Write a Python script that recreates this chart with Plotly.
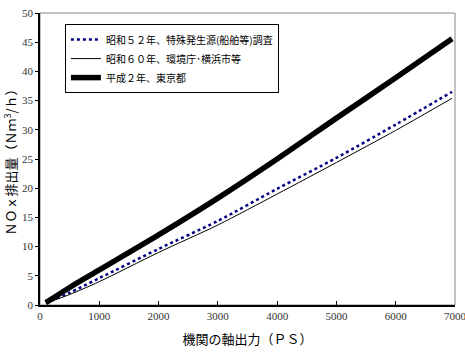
import plotly.graph_objects as go

# Data
power_ps = [100, 500, 1000, 2000, 3000, 4000, 5000, 6000, 6950]
nox_s52 = [0.3, 2.1, 4.6, 9.6, 14.4, 19.9, 25.2, 30.9, 36.5]
nox_s60 = [0.3, 1.8, 4.0, 9.0, 13.7, 19.0, 24.4, 29.9, 35.4]
nox_h2 = [0.4, 3.0, 6.0, 12.0, 18.3, 25.0, 32.0, 38.9, 45.6]

series_names = ["昭和５２年、特殊発生源(船舶等)調査", "昭和６０年、環境庁･横浜市等", "平成２年、東京都"]

x_ticks = [0, 1000, 2000, 3000, 4000, 5000, 6000, 7000]
y_ticks = [0, 5, 10, 15, 20, 25, 30, 35, 40, 45, 50]

jp = "Noto Sans CJK JP"
serif = "Liberation Serif, Times New Roman, serif"

fig = go.Figure()
fig.add_trace(go.Scatter(x=power_ps, y=nox_s52, mode="lines", name=series_names[0],
                         line=dict(color="#000080", width=2.5, dash="dot", shape="spline", smoothing=0.8)))
fig.add_trace(go.Scatter(x=power_ps, y=nox_s60, mode="lines", name=series_names[1],
                         line=dict(color="black", width=1, shape="spline", smoothing=0.8)))
fig.add_trace(go.Scatter(x=power_ps, y=nox_h2, mode="lines", name=series_names[2],
                         line=dict(color="black", width=5.5, shape="spline", smoothing=0.8)))

fig.update_layout(
    width=465, height=356,
    margin=dict(l=40, r=10, t=13, b=51),
    paper_bgcolor="white", plot_bgcolor="white",
    showlegend=True,
    legend=dict(x=0.06, y=0.962, xanchor="left", yanchor="top",
                bgcolor="white", bordercolor="black", borderwidth=1,
                font=dict(family=jp, size=10, color="black"),
                tracegroupgap=0, itemwidth=30),
    shapes=[dict(type="rect", xref="paper", yref="paper", x0=0, x1=1, y0=0, y1=1,
                 line=dict(color="#888888", width=1), layer="below")],
)

fig.update_xaxes(
    range=[0, 7000], tickvals=x_ticks, ticktext=[str(v) for v in x_ticks],
    automargin=False, ticklabeloverflow="allow",
    showgrid=False, zeroline=False, showline=True, linecolor="black", linewidth=1.5,
    ticks="inside", ticklen=4, tickcolor="black",
    tickfont=dict(family=serif, size=11, color="#333333"),
    title=dict(text="機関の軸出力（ＰＳ）", font=dict(family=jp, size=13, color="black"), standoff=14),
)
fig.update_yaxes(
    range=[0, 50], tickvals=y_ticks, ticktext=[str(v) for v in y_ticks],
    automargin=False,
    showgrid=False, zeroline=False, showline=True, linecolor="black", linewidth=1.5,
    ticks="outside", ticklen=3, tickcolor="black",
    tickfont=dict(family=serif, size=11, color="#333333"),
    title=dict(text="ＮＯｘ排出量（Ｎｍ<sup>3</sup>/ｈ）", font=dict(family=jp, size=13, color="black"), standoff=2),
)

fig.write_html("out.html", config={"displayModeBar": False},
               post_script="document.body.style.margin='0';document.body.style.padding='0';")
